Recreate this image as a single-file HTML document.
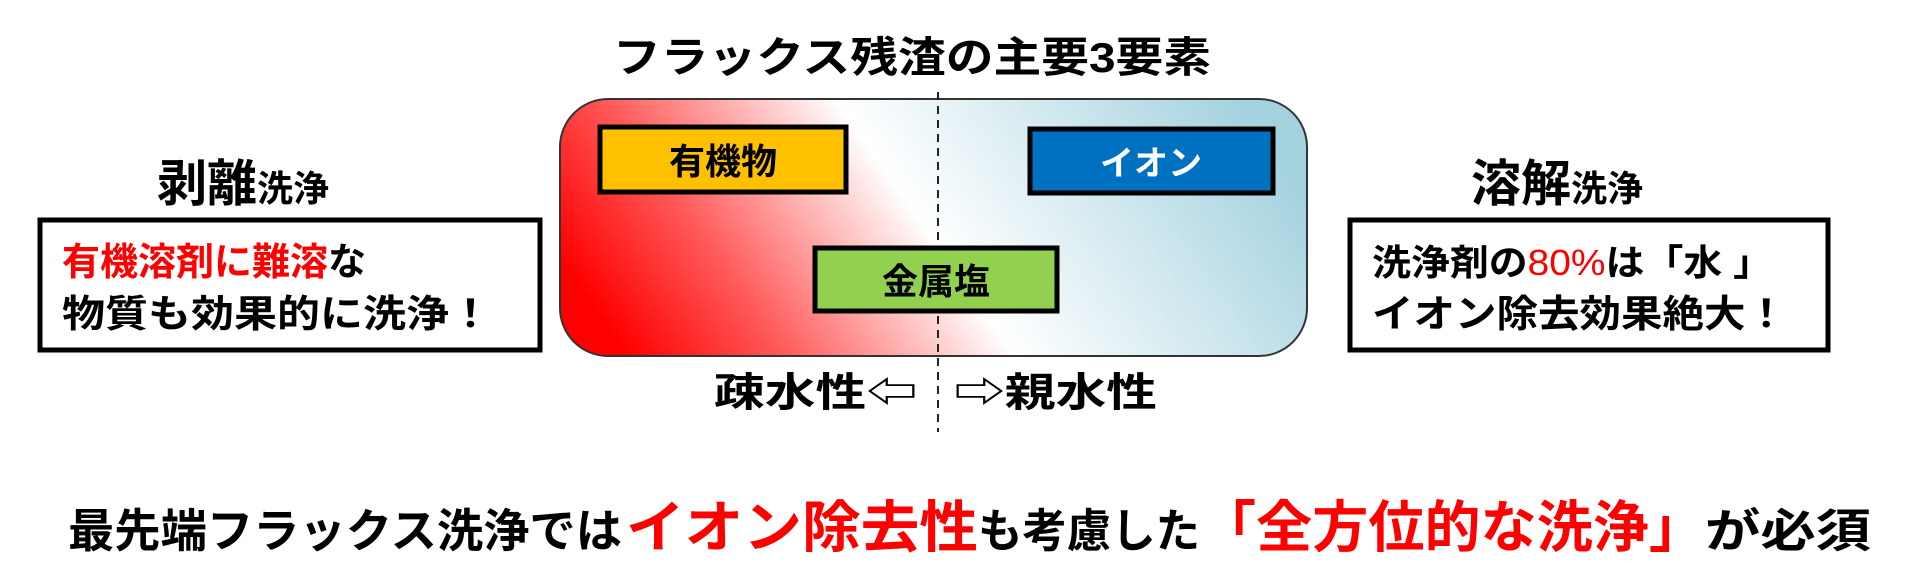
<!DOCTYPE html>
<html><head><meta charset="utf-8"><style>
html,body{margin:0;padding:0;background:#fff;width:1920px;height:581px;overflow:hidden}
text{font-family:"Liberation Sans","Noto Sans CJK JP",sans-serif;font-weight:bold}
</style></head><body>
<svg width="1920" height="581" viewBox="0 0 1920 581" xmlns="http://www.w3.org/2000/svg">
<defs>
<linearGradient id="g" x1="0" y1="0.62" x2="1" y2="0.38">
<stop offset="0" stop-color="#ff0000"/>
<stop offset="0.2" stop-color="#ff5a5a"/>
<stop offset="0.49" stop-color="#ffffff"/>
<stop offset="1" stop-color="#a4d2df"/>
</linearGradient>
</defs>
<text x="912" y="72" font-size="42" text-anchor="middle" textLength="598" lengthAdjust="spacingAndGlyphs">フラックス残渣の主要3要素</text>
<rect x="560" y="99" width="747" height="257" rx="48" fill="url(#g)" stroke="#333" stroke-width="2"/>
<line x1="938" y1="92" x2="938" y2="432" stroke="#222" stroke-width="2" stroke-dasharray="8,6"/>
<rect x="600" y="127" width="246" height="65" fill="#ffc000" stroke="#000" stroke-width="5"/>
<text x="723" y="174" font-size="36" text-anchor="middle">有機物</text>
<rect x="1030" y="129" width="243" height="64" fill="#0070c0" stroke="#000" stroke-width="5"/>
<text x="1151" y="175" font-size="34" text-anchor="middle" fill="#fff">イオン</text>
<rect x="815" y="248" width="242" height="63" fill="#92d050" stroke="#000" stroke-width="5"/>
<text x="936" y="294" font-size="36" text-anchor="middle">金属塩</text>
<text x="714" y="406" font-size="40" textLength="203" lengthAdjust="spacingAndGlyphs">疎水性⇦</text>
<text x="954" y="406" font-size="40" textLength="203" lengthAdjust="spacingAndGlyphs">⇨親水性</text>
<text x="157" y="201" font-size="50">剥離<tspan font-size="36">洗浄</tspan></text>
<rect x="40" y="220" width="500" height="130" fill="#fff" stroke="#000" stroke-width="5"/>
<text x="62" y="275" font-size="38"><tspan fill="#ff0000">有機溶剤に難溶</tspan>な</text>
<text x="62" y="327" font-size="38" textLength="430" lengthAdjust="spacingAndGlyphs">物質も効果的に洗浄！</text>
<text x="1471" y="201" font-size="50">溶解<tspan font-size="36">洗浄</tspan></text>
<rect x="1350" y="220" width="478" height="130" fill="#fff" stroke="#000" stroke-width="5"/>
<text x="1372" y="275" font-size="36" textLength="400" lengthAdjust="spacingAndGlyphs">洗浄剤の<tspan fill="#ff0000" font-weight="normal">80%</tspan>は「水 」</text>
<text x="1372" y="327" font-size="38" textLength="415" lengthAdjust="spacingAndGlyphs">イオン除去効果絶大！</text>
<text x="68" y="547" font-size="46" textLength="554" lengthAdjust="spacingAndGlyphs">最先端フラックス洗浄では</text>
<text x="626" y="547" font-size="56" fill="#ff0000" textLength="352" lengthAdjust="spacingAndGlyphs">イオン除去性</text>
<text x="978" y="547" font-size="46" textLength="222" lengthAdjust="spacingAndGlyphs">も考慮した</text>
<text x="1200" y="547" font-size="56" fill="#ff0000" textLength="505" lengthAdjust="spacingAndGlyphs">「全方位的な洗浄」</text>
<text x="1705" y="547" font-size="46" textLength="166" lengthAdjust="spacingAndGlyphs">が必須</text>
</svg>
</body></html>
